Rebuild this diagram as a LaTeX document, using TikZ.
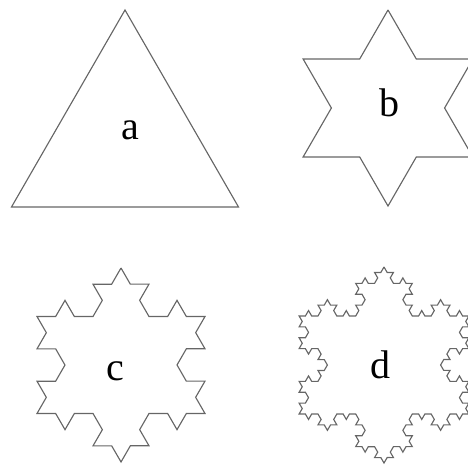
\documentclass[tikz,border=0pt]{standalone}
\usepackage{fontspec}
\setmainfont{Liberation Serif}
\usetikzlibrary{decorations.fractals}
\tikzset{
  flake/.style={draw=black!60, line width=0.85pt, line join=miter, decoration=Koch snowflake},
  lbl/.style={anchor=base, inner sep=0pt, font=\fontsize{30}{32}\selectfont}
}
\begin{document}
\begin{tikzpicture}[x=0.75pt, y=-0.75pt]
\useasboundingbox (0,0) rectangle (468,467);
\clip (0,0) rectangle (468,467);
\draw[flake] (125,10) -- (238.5,207) -- (11.5,207) -- cycle;
\node[lbl] (a) at (130,140) {a};
\draw[flake] decorate{ (388,10) -- (472.9,157) -- (303.1,157) -- (388,10) };
\node[lbl] (b) at (389,117) {b};
\draw[flake] decorate{ decorate{ (121,268) -- (205,413.5) -- (37,413.5) -- (121,268) } };
\node[lbl] (c) at (115,380) {c};
\draw[flake] decorate{ decorate{ decorate{ (384,267) -- (468.9,414) -- (299.1,414) -- (384,267) } } };
\node[lbl] (d) at (380,378) {d};
\end{tikzpicture}
\end{document}
